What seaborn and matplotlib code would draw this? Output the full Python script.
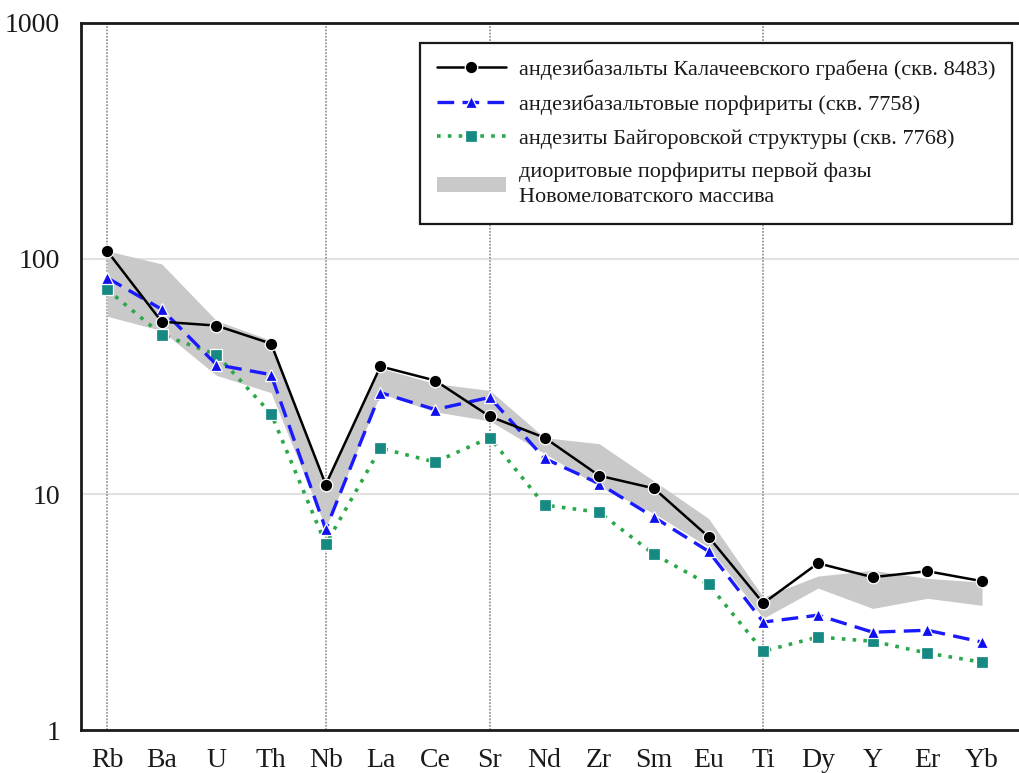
import numpy as np
import pandas as pd
import matplotlib
matplotlib.use("Agg")
import matplotlib.pyplot as plt
import seaborn as sns
from matplotlib.ticker import FixedLocator, NullLocator

elements = ["Rb", "Ba", "U", "Th", "Nb", "La", "Ce", "Sr", "Nd", "Zr", "Sm",
            "Eu", "Ti", "Dy", "Y", "Er", "Yb"]

kalach = [108, 54, 52, 43.6, 11.0, 34.9, 30.4, 21.4, 17.4, 12.0, 10.6,
          6.6, 3.45, 5.1, 4.45, 4.72, 4.28]
porph = [83, 61, 35.5, 32.2, 7.1, 27, 22.9, 25.8, 14.2, 11.1, 8.0,
         5.73, 2.87, 3.07, 2.6, 2.65, 2.36]
baig = [74, 47.6, 39.2, 22, 6.14, 15.7, 13.7, 17.4, 9.0, 8.4, 5.57,
        4.15, 2.16, 2.48, 2.38, 2.12, 1.94]
band_upper = [108, 95, 54.6, 45, 11.0, 34.3, 29.5, 27.6, 17.4, 16.4, 11.4,
              7.9, 3.66, 4.5, 4.76, 4.4, 4.24]
band_lower = [57, 49.5, 32, 27, 7.2, 26.8, 22.4, 20.5, 14.9, 10.8, 8.3,
              5.97, 2.98, 4.0, 3.28, 3.62, 3.38]

vlines_at = ["Rb", "Nb", "Sr", "Ti"]
yticks = [1, 10, 100, 1000]

labels = ["андезибазальты Калачеевского грабена (скв. 8483)",
          "андезибазальтовые порфириты (скв. 7758)",
          "андезиты Байгоровской структуры (скв. 7768)",
          "диоритовые порфириты первой фазы\nНовомеловатского массива"]

sns.set_theme(style="white")
plt.rcParams['font.family'] = ['Liberation Serif', 'DejaVu Serif']

pos = np.arange(len(elements))
df = pd.DataFrame({"pos": pos, "kalach": kalach, "porph": porph, "baig": baig,
                   "up": band_upper, "lo": band_lower})

fig = plt.figure(figsize=(10.2, 7.73), dpi=100)
ax = fig.add_axes([81 / 1020, 1 - 730 / 773, 1 - 81 / 1020, (730 - 23) / 773])

ax.set_yscale("log")

# grid
for v in [10, 100]:
    ax.axhline(v, color="#e2e2e2", lw=1.5, zorder=0)
for el in vlines_at:
    ax.axvline(elements.index(el), color="#999999", lw=1.3, ls=(0, (1, 0.8)), zorder=0.5)

ax.fill_between(df["pos"], df["lo"], df["up"], color="#c9c9c9", lw=0,
                zorder=1, label=labels[3])

sns.lineplot(data=df, x="pos", y="baig", ax=ax, color="#2aa84a", lw=2.6,
             ls=(0, (1, 2)), marker="s", markersize=8.5, markerfacecolor="#168a82",
             markeredgecolor="white", markeredgewidth=0.9, label=labels[2], zorder=3)
sns.lineplot(data=df, x="pos", y="porph", ax=ax, color="#1a1aff", lw=2.4,
             ls=(0, (5, 2.5)), marker="^", markersize=9, markerfacecolor="#1010ee",
             markeredgecolor="white", markeredgewidth=0.9, label=labels[1], zorder=4)
sns.lineplot(data=df, x="pos", y="kalach", ax=ax, color="black", lw=1.8,
             marker="o", markersize=9, markeredgecolor="white",
             markeredgewidth=0.9, label=labels[0], zorder=5)

ax.set_ylim(1, 1000)
ax.set_xlim(-(107 - 81) / 54.69, (1020 - 107) / 54.69)

ax.yaxis.set_major_locator(FixedLocator(yticks))
ax.yaxis.set_minor_locator(NullLocator())
ax.set_yticklabels([str(t) for t in yticks])
ax.set_xticks(pos)
ax.set_xticklabels(elements)
ax.set_xlabel("")
ax.set_ylabel("")

ax.tick_params(axis="both", which="major", direction="out", length=7, width=2,
               color="#222222", labelsize=20, labelcolor="#1a1a1a")
ax.tick_params(axis="x", pad=6)
ax.tick_params(axis="y", pad=8)

for side in ["left", "bottom", "top"]:
    ax.spines[side].set_visible(True)
    ax.spines[side].set_color("#1a1a1a")
    ax.spines[side].set_linewidth(2.0)
ax.spines["right"].set_visible(False)

handles, labs = ax.get_legend_handles_labels()
order = [labs.index(l) for l in labels]
leg = ax.legend([handles[i] for i in order], [labs[i] for i in order],
                loc="upper right", bbox_to_anchor=((1012 - 81) / 939, (730 - 43) / 707),
                borderaxespad=0, fancybox=False, frameon=True, fontsize=16,
                handlelength=3.1, handletextpad=0.6, labelspacing=0.62,
                borderpad=0.75, framealpha=1)
leg.get_frame().set_edgecolor("#1a1a1a")
leg.get_frame().set_linewidth(1.6)
for t in leg.get_texts():
    t.set_color("#1a1a1a")
    t.set_linespacing(1.45)

fig.savefig("out.png", dpi=100)
